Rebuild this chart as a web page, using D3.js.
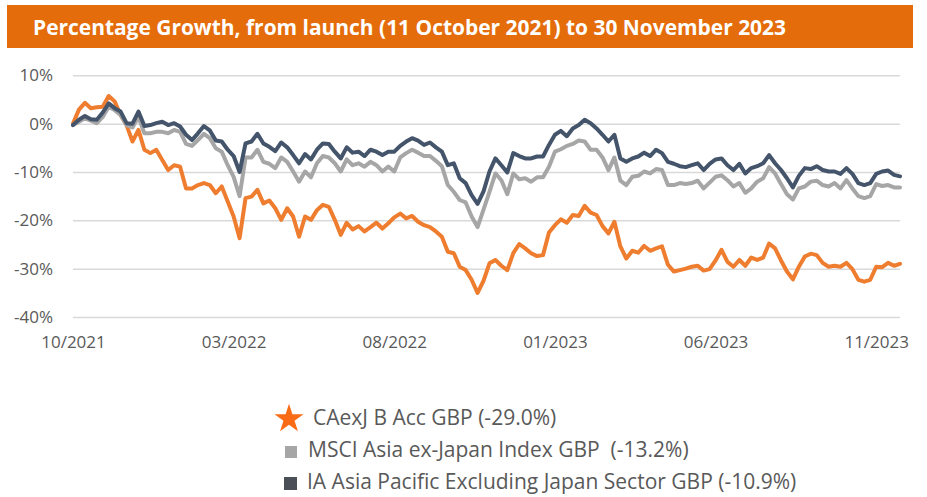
<!DOCTYPE html>
<html>
<head>
<meta charset="utf-8">
<script src="https://cdn.jsdelivr.net/npm/d3@7"></script>
<style>
  body { margin: 0; background: #fff; }
  svg { display: block; font-family: "Open Sans", sans-serif; }
  .legend text { white-space: pre; }
</style>
</head>
<body>
<svg id="chart" width="927" height="497"></svg>
<script>
// sampled every 4th trading day, 11 Oct 2021 -> 30 Nov 2023 (% growth)
const fundGBP = [
  0.0, 2.9, 4.3, 3.2, 3.4, 3.5, 5.7, 4.6, 1.8, -0.3,
  -3.7, -1.3, -5.4, -6.1, -5.4, -7.5, -9.6, -8.6, -8.9, -13.4,
  -13.4, -12.7, -12.3, -12.7, -14.4, -13.0, -16.1, -19.2, -23.7, -15.4,
  -15.1, -13.7, -16.5, -15.9, -17.5, -19.9, -17.5, -19.2, -23.4, -19.2,
  -19.9, -17.9, -16.8, -17.2, -19.9, -23.0, -20.5, -21.9, -21.2, -22.3,
  -21.4, -20.5, -21.7, -20.6, -19.4, -18.6, -19.6, -19.1, -20.3, -21.0,
  -21.4, -22.3, -23.4, -26.5, -26.8, -29.6, -30.3, -32.3, -35.0, -32.5,
  -28.9, -28.2, -29.4, -30.3, -26.8, -24.9, -25.8, -26.8, -27.4, -27.2,
  -22.5, -21.0, -19.8, -20.5, -18.9, -19.1, -17.0, -18.4, -18.9, -21.2,
  -22.7, -20.3, -25.4, -27.9, -26.3, -26.7, -25.3, -26.3, -25.8, -25.4,
  -29.2, -30.6, -30.3, -30.0, -29.6, -29.4, -30.4, -30.1, -28.3, -26.1,
  -28.6, -29.6, -28.2, -29.4, -27.7, -28.2, -27.7, -24.8, -25.8, -28.3,
  -30.6, -32.2, -29.6, -27.5, -26.9, -27.2, -28.8, -29.6, -29.4, -29.6,
  -28.8, -30.1, -32.3, -32.7, -32.3, -29.6, -29.7, -28.8, -29.4, -29.0,
];
const msciGBP = [
  -0.3, 0.4, 1.1, 0.6, 0.1, 1.4, 3.5, 2.8, 1.8, -0.3,
  -0.8, 1.4, -2.0, -2.0, -1.7, -1.7, -2.0, -1.3, -1.7, -4.2,
  -4.6, -3.4, -2.1, -3.0, -5.1, -5.8, -8.6, -11.0, -15.0, -7.0,
  -7.0, -5.4, -7.9, -8.3, -9.2, -7.0, -7.9, -9.9, -12.0, -9.9,
  -11.1, -8.2, -6.7, -7.0, -8.2, -9.9, -7.4, -8.6, -8.2, -8.9,
  -7.9, -8.6, -9.9, -8.9, -9.9, -7.0, -6.1, -5.4, -6.0, -6.7,
  -6.7, -7.7, -8.8, -12.7, -14.1, -15.8, -16.3, -19.2, -21.4, -17.8,
  -14.1, -10.3, -11.7, -14.6, -10.3, -11.5, -11.3, -12.0, -11.1, -11.1,
  -8.9, -5.8, -5.3, -4.6, -4.2, -3.5, -3.7, -5.4, -5.4, -7.0,
  -9.6, -7.0, -11.8, -12.7, -11.0, -10.8, -9.9, -10.3, -9.4, -9.6,
  -12.7, -12.7, -12.3, -12.5, -12.3, -11.8, -13.4, -12.2, -11.0, -10.7,
  -11.7, -13.0, -12.3, -14.3, -13.4, -12.0, -11.3, -9.0, -10.3, -12.5,
  -14.6, -15.7, -13.4, -13.0, -12.0, -11.8, -12.7, -13.0, -12.3, -13.4,
  -11.7, -13.4, -15.0, -15.4, -15.0, -12.5, -12.9, -12.7, -13.2, -13.2,
];
const sectorGBP = [
  -0.3, 0.8, 1.6, 0.9, 0.8, 2.3, 4.2, 3.2, 2.5, 0.1,
  0.0, 2.5, -0.5, -0.3, 0.1, 0.4, -0.3, 0.1, -0.6, -2.3,
  -3.4, -2.0, -0.5, -1.4, -3.5, -3.7, -5.4, -6.7, -10.0, -4.1,
  -3.7, -2.1, -4.1, -4.8, -5.7, -3.9, -4.9, -6.5, -8.2, -6.3,
  -7.4, -5.4, -4.1, -4.2, -5.8, -7.2, -4.9, -6.0, -5.8, -6.7,
  -5.4, -5.8, -6.5, -5.8, -5.8, -4.6, -3.7, -3.0, -3.5, -4.4,
  -3.9, -4.9, -5.8, -8.6, -8.2, -11.3, -12.3, -14.8, -16.6, -14.0,
  -9.9, -7.2, -8.6, -10.1, -6.1, -6.7, -7.2, -7.2, -6.8, -6.8,
  -4.4, -2.3, -1.5, -2.6, -1.0, -0.3, 0.8, 0.1, -1.0, -2.3,
  -3.7, -2.3, -7.2, -7.9, -7.2, -6.8, -6.0, -6.7, -5.4, -6.1,
  -7.9, -8.3, -8.8, -9.0, -8.6, -8.2, -9.6, -8.3, -7.4, -7.2,
  -8.6, -9.6, -8.3, -10.3, -9.2, -8.8, -8.2, -6.5, -8.2, -9.6,
  -11.3, -13.2, -10.8, -9.2, -9.4, -8.8, -9.6, -9.9, -9.9, -10.4,
  -9.2, -10.4, -12.3, -12.7, -12.3, -10.4, -9.9, -9.7, -10.6, -10.9,
];

const xTickIndex = [0, 27, 54, 81, 108, 135];
const xTickLabels = ["10/2021", "03/2022", "08/2022", "01/2023", "06/2023", "11/2023"];
const yTicks = [10, 0, -10, -20, -30, -40];
const seriesNames = [
  "CAexJ B Acc GBP (-29.0%)",
  "MSCI Asia ex-Japan Index GBP  (-13.2%)",
  "IA Asia Pacific Excluding Japan Sector GBP (-10.9%)",
];

const colors = { fund: "#ef7d2f", msci: "#a6a6a6", sector: "#44546a" };
const plot = { left: 73, right: 900, top: 75.3, bottom: 317 };

const svg = d3.select("#chart");

// title banner
svg.append("rect")
  .attr("x", 7).attr("y", 5)
  .attr("width", 906).attr("height", 43)
  .attr("fill", "#e46c0a");

svg.append("text")
  .attr("x", 33).attr("y", 35)
  .attr("fill", "#fff")
  .attr("font-weight", 700)
  .attr("font-size", 20.5)
  .attr("textLength", 753)
  .attr("lengthAdjust", "spacingAndGlyphs")
  .text("Percentage Growth, from launch (11 October 2021) to 30 November 2023");

const x = d3.scaleLinear()
  .domain([0, fundGBP.length - 1])
  .range([plot.left, plot.right]);

const y = d3.scaleLinear()
  .domain([-40, 10])
  .range([plot.bottom, plot.top]);

// y axis with gridlines
const yAxis = svg.append("g")
  .attr("transform", `translate(${plot.left},0)`)
  .call(
    d3.axisLeft(y)
      .tickValues(yTicks)
      .tickSize(-(plot.right - plot.left))
      .tickPadding(20)
      .tickFormat((d) => `${d}%`),
  );
yAxis.select(".domain").remove();
yAxis.selectAll(".tick line").attr("stroke", "#d9d9d9").attr("stroke-width", 1.5);
yAxis.selectAll(".tick text")
  .attr("fill", "#595959")
  .attr("font-size", 17)
  .attr("font-family", "Open Sans, sans-serif");

// x axis labels
const xAxis = svg.append("g")
  .attr("transform", `translate(0,${plot.bottom})`)
  .call(
    d3.axisBottom(x)
      .tickValues(xTickIndex)
      .tickSize(0)
      .tickPadding(19)
      .tickFormat((d, i) => xTickLabels[i]),
  );
xAxis.select(".domain").remove();
xAxis.selectAll(".tick text")
  .attr("fill", "#595959")
  .attr("font-size", 17)
  .attr("font-family", "Open Sans, sans-serif");

const line = d3.line()
  .x((d, i) => x(i))
  .y((d) => y(d));

[
  [fundGBP, colors.fund],
  [msciGBP, colors.msci],
  [sectorGBP, colors.sector],
].forEach(([values, color]) => {
  svg.append("path")
    .datum(values)
    .attr("fill", "none")
    .attr("stroke", color)
    .attr("stroke-width", 4)
    .attr("stroke-linejoin", "round")
    .attr("stroke-linecap", "round")
    .attr("d", line);
});

// legend
const legend = svg.append("g")
  .attr("class", "legend")
  .attr("font-size", 21)
  .attr("fill", "#595959");

legend.append("path")
  .attr("transform", "translate(289,419)")
  .attr("d", d3.symbol(d3.symbolStar, 260)())
  .attr("fill", "#f96b14");
legend.append("text")
  .attr("x", 313).attr("y", 418).attr("dy", "0.35em")
  .text(seriesNames[0]);

legend.append("rect")
  .attr("x", 285).attr("y", 446).attr("width", 12).attr("height", 12)
  .attr("fill", colors.msci);
legend.append("text")
  .attr("x", 308).attr("y", 450).attr("dy", "0.35em")
  .text(seriesNames[1]);

legend.append("rect")
  .attr("x", 284).attr("y", 477).attr("width", 13).attr("height", 13)
  .attr("fill", "#4b4f58");
legend.append("text")
  .attr("x", 307).attr("y", 482).attr("dy", "0.35em")
  .text(seriesNames[2]);
</script>
</body>
</html>
